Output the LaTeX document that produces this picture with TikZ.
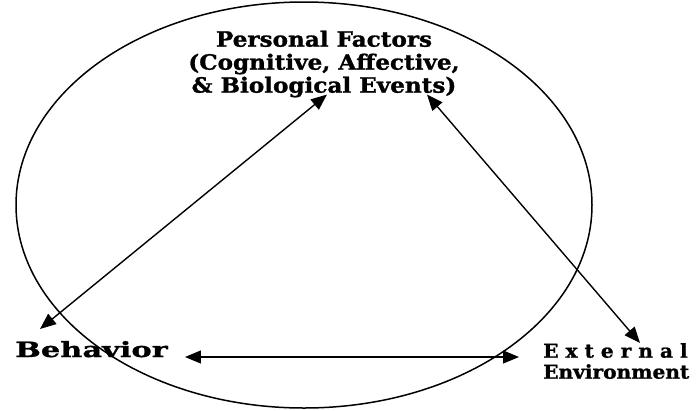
\documentclass[tikz,border=0pt]{standalone}
\usepackage{fontspec}
\setmainfont{DejaVu Serif}
\usetikzlibrary{arrows.meta}
\tikzset{
  factor/.style n args={4}{inner sep=0pt, align=#3,
    font={\bfseries\fontsize{#1}{#4}\selectfont\addfontfeature{FakeStretch=#2,FakeBold=1.2}}},
  link/.style={{Triangle[length=16pt,width=13pt]}-{Triangle[length=16pt,width=13pt]}, line width=1.4pt}
}

\begin{document}
\begin{tikzpicture}[x=1pt,y=-1pt]
  \useasboundingbox (0,0) rectangle (696,410);
  % triadic frame
  \draw[line width=1.5pt] (304,205) ellipse [x radius=288, y radius=203];
  \node[factor={21}{1.1}{center}{23}] (personal) at (324,64)
    {Personal Factors\\(Cognitive, Affective,\\\& Biological Events)};
  \node[factor={21}{1.45}{left}{23}, anchor=base west] (behavior) at (15,357) {Behavior};
  \node[factor={19}{1.06}{left}{21}, anchor=north west] (external) at (543,343)
    {E x t e r n a l\\Environment};
  \draw[link] ([xshift=25pt,yshift=28pt]behavior.base west) -- ([xshift=3pt,yshift=3pt]personal.south);
  \draw[link] ([xshift=103pt,yshift=3pt]personal.south) -- ([xshift=97pt]external.north west);
  \draw[link] ([xshift=17pt]behavior.base east) -- ([xshift=-24pt,yshift=-14pt]external.north west);
\end{tikzpicture}
\end{document}
